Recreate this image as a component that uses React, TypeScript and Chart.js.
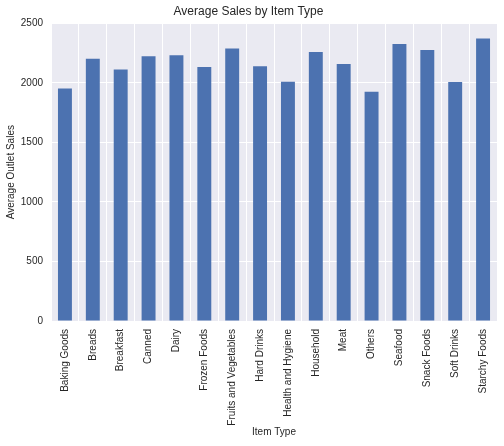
import React, { useRef, useEffect } from "react";
import { Chart, registerables, Plugin } from "chart.js";

Chart.register(...registerables);

const itemTypes = [
  "Baking Goods",
  "Breads",
  "Breakfast",
  "Canned",
  "Dairy",
  "Frozen Foods",
  "Fruits and Vegetables",
  "Hard Drinks",
  "Health and Hygiene",
  "Household",
  "Meat",
  "Others",
  "Seafood",
  "Snack Foods",
  "Soft Drinks",
  "Starchy Foods",
];

const avgSales = [
  1953, 2204, 2112, 2225, 2233, 2133, 2289, 2139, 2010, 2259, 2159, 1926, 2326,
  2277, 2007, 2374,
];

const yTicks = [0, 500, 1000, 1500, 2000, 2500];

const FONT = "'Liberation Sans', Arial, sans-serif";
const TEXT = "#262626";

// fill the plot area with the seaborn grey before anything else
const plotBackground: Plugin<"bar"> = {
  id: "plotBackground",
  beforeDraw(chart) {
    const { ctx, chartArea } = chart;
    ctx.save();
    ctx.fillStyle = "#EAEAF2";
    ctx.fillRect(
      chartArea.left,
      chartArea.top,
      chartArea.right - chartArea.left,
      chartArea.bottom - chartArea.top
    );
    ctx.restore();
  },
};

const SalesChart: React.FC = () => {
  const chartRef = useRef<HTMLCanvasElement | null>(null);

  useEffect(() => {
    document.body.style.margin = "0";
    if (!chartRef.current) return;
    const chartInstance = new Chart(chartRef.current, {
      type: "bar",
      data: {
        labels: itemTypes,
        datasets: [
          {
            label: "Item_Outlet_Sales",
            data: avgSales,
            backgroundColor: "#4C72B0",
            barPercentage: 0.5,
            categoryPercentage: 1,
          },
        ],
      },
      options: {
        responsive: true,
        maintainAspectRatio: false,
        animation: false,
        layout: { padding: { left: 0, right: 7, top: 0, bottom: 0 } },
        plugins: {
          legend: { display: false },
          tooltip: { enabled: false },
          title: {
            display: true,
            text: "Average Sales by Item Type",
            color: TEXT,
            font: { family: FONT, size: 12, weight: "normal" },
            padding: { top: 4, bottom: 5 },
          },
        },
        scales: {
          x: {
            grid: { color: "#ffffff", lineWidth: 1, drawTicks: false },
            border: { display: false },
            ticks: {
              color: TEXT,
              font: { family: FONT, size: 10 },
              minRotation: 90,
              maxRotation: 90,
              padding: 8,
              autoSkip: false,
            },
            title: {
              display: true,
              text: "Item Type",
              color: TEXT,
              font: { family: FONT, size: 10 },
              padding: { top: 0, bottom: 8 },
            },
            afterFit: (scale) => {
              scale.height = 125;
            },
          },
          y: {
            min: yTicks[0],
            max: yTicks[yTicks.length - 1],
            grid: { color: "#ffffff", lineWidth: 1, drawTicks: false },
            border: { display: false },
            afterBuildTicks: (scale) => {
              scale.ticks = yTicks.map((v) => ({ value: v }));
            },
            ticks: {
              color: TEXT,
              font: { family: FONT, size: 10 },
              padding: 8,
              callback: (value) => String(value),
            },
            title: {
              display: true,
              text: "Average Outlet Sales",
              color: TEXT,
              font: { family: FONT, size: 10 },
              padding: { top: 5, bottom: 0 },
            },
            afterFit: (scale) => {
              scale.width = 51;
            },
          },
        },
      },
      plugins: [plotBackground],
    });

    return () => {
      chartInstance.destroy();
    };
  }, []);

  return (
    <div style={{ position: "relative", width: 504, height: 446, background: "#fff" }}>
      <canvas ref={chartRef} />
    </div>
  );
};

export default function App() {
  return <SalesChart />;
}
